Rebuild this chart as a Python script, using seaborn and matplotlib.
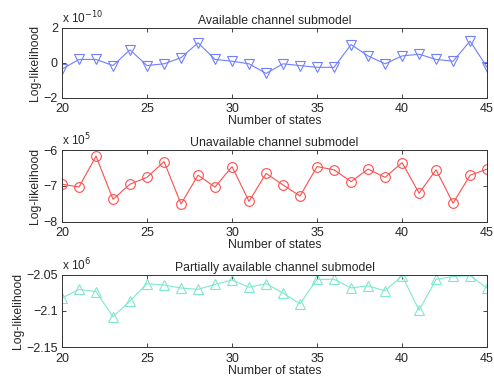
import numpy as np
import pandas as pd
import matplotlib
matplotlib.use('Agg')
import matplotlib.pyplot as plt
import seaborn as sns

# number of states on the x axis
states = list(range(20, 46))

# log-likelihood, available channel (units of 1e-10)
available = [-0.35, 0.2, 0.2, -0.15, 0.75, -0.15, -0.05, 0.3, 1.15, 0.2,
             0.1, -0.05, -0.6, -0.05, -0.15, -0.25, -0.25, 1.05, 0.4, -0.05,
             0.4, 0.5, 0.2, 0.1, 1.25, -0.25]

# log-likelihood, unavailable channel (units of 1e5)
unavailable = [-6.95, -7.03, -6.17, -7.37, -6.95, -6.76, -6.32, -7.5, -6.7, -7.03,
               -6.46, -7.43, -6.65, -6.97, -7.28, -6.46, -6.55, -6.88, -6.53, -6.76,
               -6.35, -7.2, -6.55, -7.48, -6.7, -6.53]

# log-likelihood, partially available channel (units of 1e6)
partial = [-2.082, -2.070, -2.073, -2.108, -2.086, -2.062, -2.064, -2.068, -2.070, -2.063,
           -2.057, -2.067, -2.062, -2.075, -2.090, -2.056, -2.056, -2.068, -2.065, -2.072,
           -2.051, -2.099, -2.056, -2.052, -2.051, -2.068]

sns.set_style('ticks')
plt.rcParams['font.family'] = ['Liberation Sans', 'DejaVu Sans']
plt.rcParams['xtick.direction'] = 'in'
plt.rcParams['ytick.direction'] = 'in'
plt.rcParams['font.size'] = 9

panels = [
    ('Available channel submodel', available, '#6f7fff', 'v', (-2, 2), [-2, 0, 2], ['\u22122', '0', '2'], 'x 10$^{-10}$'),
    ('Unavailable channel submodel', unavailable, '#ff4d4d', 'o', (-8, -6), [-8, -7, -6], ['\u22128', '\u22127', '\u22126'], 'x 10$^{5}$'),
    ('Partially available channel submodel', partial, '#7fe8cf', '^', (-2.15, -2.05), [-2.15, -2.1, -2.05], ['\u22122.15', '\u22122.1', '\u22122.05'], 'x 10$^{6}$'),
]

fig = plt.figure(figsize=(4.94, 3.78), dpi=100)
boxes = [[0.1255, 0.741, 0.8605, 0.185],
         [0.1255, 0.413, 0.8605, 0.190],
         [0.1255, 0.082, 0.8605, 0.1905]]

for box, (title, vals, color, mk, ylim, yt, ytl, mult) in zip(boxes, panels):
    ax = fig.add_axes(box)
    df = pd.DataFrame({'states': states, 'll': vals})
    sns.lineplot(data=df, x='states', y='ll', ax=ax, color=color, marker=mk,
                 markersize=7, markerfacecolor='none', markeredgecolor=color,
                 markeredgewidth=0.8, linewidth=0.8)
    ax.set_xlim(20, 45)
    ax.set_ylim(*ylim)
    ax.set_xticks([20, 25, 30, 35, 40, 45])
    ax.set_yticks(yt)
    ax.set_yticklabels(ytl)
    ax.tick_params(top=True, right=True, length=3, width=0.6, labelsize=9)
    ax.tick_params(axis='x', pad=4)
    ax.tick_params(axis='y', pad=3)
    for s in ax.spines.values():
        s.set_linewidth(0.7)
        s.set_color('#333333')
    ax.set_title(title, fontsize=8.8, pad=3)
    ax.set_xlabel('Number of states', fontsize=8.8, labelpad=0)
    ax.set_ylabel('Log-likelihood', fontsize=8.8, labelpad=2)
    ax.text(0.0, 1.03, mult, transform=ax.transAxes, fontsize=8.5, ha='left', va='bottom')

fig.savefig('out.png', dpi=100)
